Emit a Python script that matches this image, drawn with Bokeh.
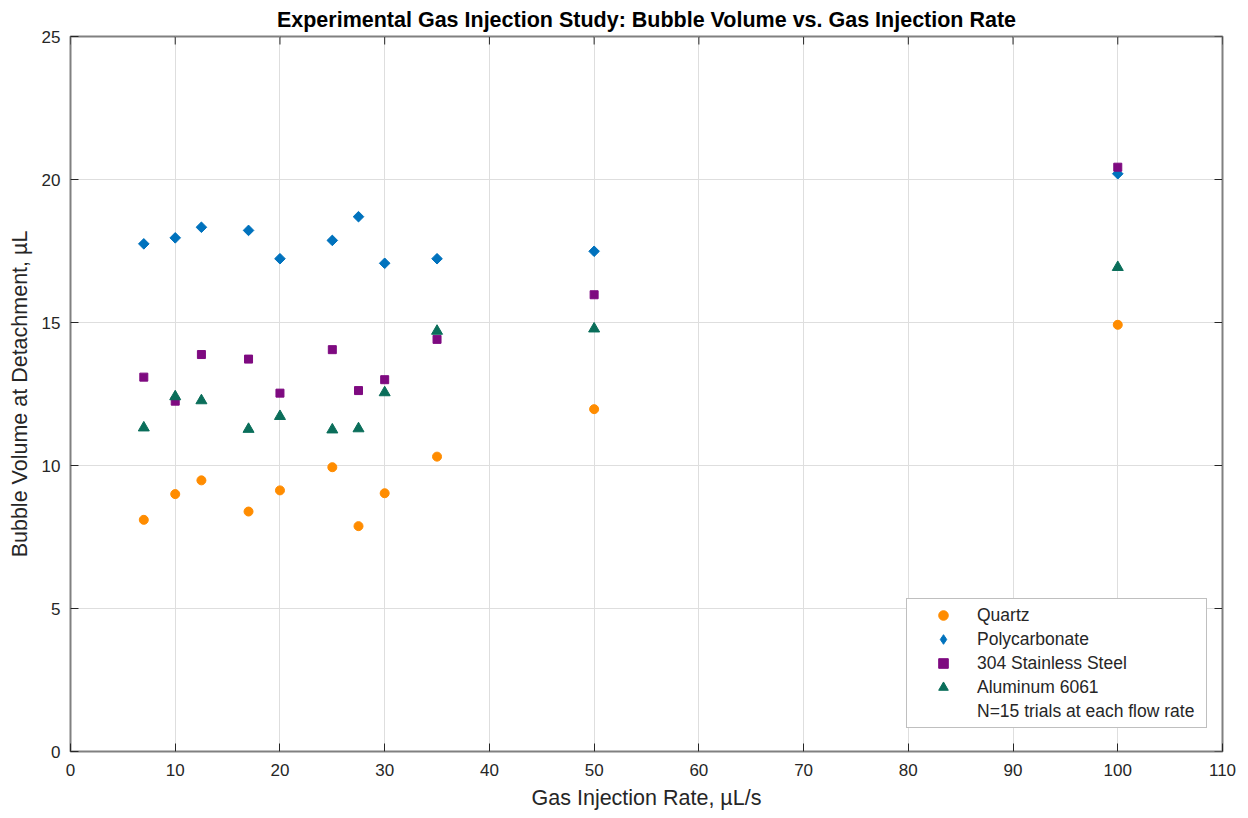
from bokeh.plotting import figure
from bokeh.models import Legend, LegendItem, Range1d, FixedTicker, ColumnDataSource
from bokeh.embed import file_html
from bokeh.resources import INLINE
import math

# Gas injection rates (µL/s) tested
rates = [7, 10, 12.5, 17, 20, 25, 27.5, 30, 35, 50, 100]

# Mean bubble volume at detachment (µL) for each surface material
quartz = [8.10, 9.00, 9.48, 8.39, 9.13, 9.94, 7.88, 9.03, 10.31, 11.97, 14.92]
polycarbonate = [17.75, 17.96, 18.33, 18.22, 17.23, 17.87, 18.70, 17.07, 17.23, 17.49, 20.20]
stainless_304 = [13.09, 12.25, 13.88, 13.72, 12.53, 14.05, 12.62, 13.00, 14.41, 15.97, 20.43]
aluminum_6061 = [11.32, 12.41, 12.27, 11.27, 11.72, 11.25, 11.29, 12.55, 14.70, 14.78, 16.93]

x_ticks = list(range(0, 111, 10))
y_ticks = list(range(0, 26, 5))
x_min, x_max = 0, 110
y_min, y_max = 0, 25

FONT = "Liberation Sans"
TEXT = "#262626"
FRAME = "#808080"

p = figure(width=1248, height=818, output_backend="svg", toolbar_location=None,
           x_range=Range1d(x_min, x_max), y_range=Range1d(y_min, y_max),
           min_border_left=70, min_border_right=26, min_border_top=36,
           min_border_bottom=67)

p.title.text = "Experimental Gas Injection Study: Bubble Volume vs. Gas Injection Rate"
p.title.align = "center"
p.title.text_font = FONT
p.title.text_font_size = "21.5px"
p.title.text_font_style = "bold"
p.title.text_color = "#000000"
p.title.standoff = 10

p.background_fill_color = "white"
p.border_fill_color = "white"
p.outline_line_color = FRAME
p.outline_line_width = 2

for ax in (p.xaxis[0], p.yaxis[0]):
    ax.axis_line_color = None
    ax.major_tick_in = 8
    ax.major_tick_out = 0
    ax.minor_tick_line_color = None
    ax.major_tick_line_color = TEXT
    ax.major_label_text_font = FONT
    ax.major_label_text_font_size = "17px"
    ax.major_label_text_color = TEXT
    ax.axis_label_text_font = FONT
    ax.axis_label_text_font_size = "21.5px"
    ax.axis_label_text_font_style = "normal"
    ax.axis_label_text_color = TEXT

p.xaxis[0].ticker = FixedTicker(ticks=x_ticks)
p.yaxis[0].ticker = FixedTicker(ticks=y_ticks)
p.xaxis[0].axis_label = "Gas Injection Rate, µL/s"
p.yaxis[0].axis_label = "Bubble Volume at Detachment, µL"
p.xaxis[0].major_label_standoff = 12
p.yaxis[0].major_label_standoff = 10
p.xaxis[0].axis_label_standoff = 7
p.yaxis[0].axis_label_standoff = 7

p.xgrid.ticker = FixedTicker(ticks=x_ticks)
p.ygrid.ticker = FixedTicker(ticks=y_ticks)
p.xgrid.grid_line_color = "#dedede"
p.ygrid.grid_line_color = "#dedede"
p.xgrid.grid_line_width = 1
p.ygrid.grid_line_width = 1

# inward tick marks along the top and right edges of the box
p.ray(x=x_ticks, y=[y_max] * len(x_ticks), length=8, length_units="screen",
      angle=-math.pi / 2, line_color=TEXT, line_width=1)
p.ray(x=[x_max] * len(y_ticks), y=y_ticks, length=8, length_units="screen",
      angle=math.pi, line_color=TEXT, line_width=1)

src = ColumnDataSource(dict(rate=rates, quartz=quartz, poly=polycarbonate,
                            ss=stainless_304, al=aluminum_6061))

r_q = p.scatter("rate", "quartz", source=src, marker="circle", size=9,
                fill_color="#FF8C00", line_color="#FF8C00")
# polycarbonate: a narrow diamond (used as the legend key) under a square
# turned 45 degrees, which gives the even diamond seen in the plot area
r_p_key = p.scatter("rate", "poly", source=src, marker="diamond", size=9,
                    fill_color="#0072BD", line_color="#0072BD")
r_p = p.scatter("rate", "poly", source=src, marker="square", size=7.5,
                angle=math.pi / 4, fill_color="#0072BD", line_color="#0072BD")
r_s = p.scatter("rate", "ss", source=src, marker="square", size=8,
                fill_color="#7E0A80", line_color="#7E0A80")
r_a = p.scatter("rate", "al", source=src, marker="triangle", size=11,
                fill_color="#0A6E5A", line_color="#0A6E5A")

legend = Legend(items=[
    LegendItem(label="Quartz", renderers=[r_q]),
    LegendItem(label="Polycarbonate", renderers=[r_p_key]),
    LegendItem(label="304 Stainless Steel", renderers=[r_s]),
    LegendItem(label="Aluminum 6061", renderers=[r_a]),
    LegendItem(label="N=15 trials at each flow rate", renderers=[]),
])
legend.location = (836, 23)
legend.margin = 0
legend.padding = 4
legend.spacing = 0
legend.glyph_width = 64
legend.glyph_height = 24
legend.label_height = 24
legend.label_width = 225
legend.label_standoff = 2
legend.label_text_font = FONT
legend.label_text_font_size = "17.5px"
legend.label_text_color = TEXT
legend.border_line_color = FRAME
legend.border_line_width = 1.5
legend.background_fill_color = "white"
legend.background_fill_alpha = 1
p.add_layout(legend, "center")

open("out.html", "w").write(file_html(p, INLINE))
